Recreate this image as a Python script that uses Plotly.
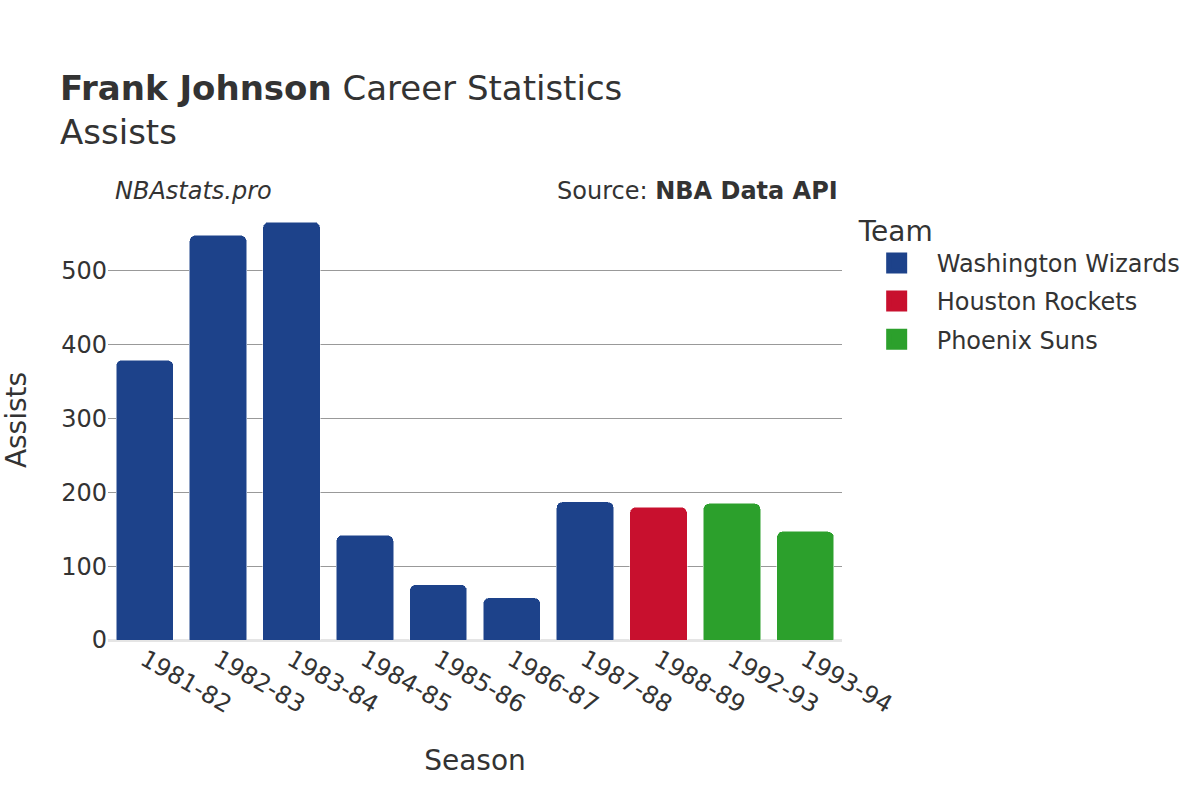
import plotly.graph_objects as go

seasons = ["1981-82", "1982-83", "1983-84", "1984-85", "1985-86",
           "1986-87", "1987-88", "1988-89", "1992-93", "1993-94"]
teams = ["Washington Wizards", "Washington Wizards", "Washington Wizards",
         "Washington Wizards", "Washington Wizards", "Washington Wizards",
         "Washington Wizards", "Houston Rockets", "Phoenix Suns", "Phoenix Suns"]
assists = [379, 548, 566, 142, 75, 57, 187, 180, 185, 147]

team_order = ["Washington Wizards", "Houston Rockets", "Phoenix Suns"]
team_colors = {"Washington Wizards": "#1D428A",
               "Houston Rockets": "#C8102E",
               "Phoenix Suns": "#2CA02C"}

font = "DejaVu Sans"
text_color = "#333333"

fig = go.Figure()
for team in team_order:
    xs = [s for s, t in zip(seasons, teams) if t == team]
    ys = [a for a, t in zip(assists, teams) if t == team]
    fig.add_trace(go.Bar(
        x=xs, y=ys, name=team,
        marker_color=team_colors[team],
        marker_cornerradius=6,
        legendgroup=team, showlegend=False,
    ))
    # legend-only entry so the swatch can be bigger than the fixed bar swatch
    fig.add_trace(go.Scatter(
        x=[None], y=[None], mode="markers", name=team,
        legendgroup=team,
        marker=dict(symbol="square", size=16, color=team_colors[team],
                    line=dict(color=team_colors[team], width=5)),
    ))

fig.update_layout(
    width=1200, height=800,
    barmode="stack",
    bargap=0.22,
    template="plotly_white",
    font=dict(family=font, size=24, color=text_color),
    title=dict(
        text="<b>Frank Johnson</b> Career Statistics<br>Assists",
        x=0.05, xref="container", xanchor="left",
        y=0.875, yref="container", yanchor="top",
        font=dict(size=34, color=text_color),
    ),
    margin=dict(l=108, r=358, t=200, b=160, autoexpand=False),
    legend=dict(
        title=dict(text="Team", font=dict(size=28)),
        x=1.02, y=0.99, xanchor="left", yanchor="top",
        font=dict(size=24),
        traceorder="grouped",
        tracegroupgap=4,
        itemwidth=70,
    ),
    xaxis=dict(
        title=dict(text="Season", font=dict(size=28), standoff=32),
        categoryorder="array", categoryarray=seasons,
        tickangle=30,
        showgrid=False,
        automargin=False,
    ),
    yaxis=dict(
        title=dict(text="Assists", font=dict(size=28), standoff=26),
        gridcolor="#999999",
        zeroline=True, zerolinecolor="#e5e5e5", zerolinewidth=3,
        dtick=100,
        automargin=False,
    ),
    annotations=[
        dict(text="<i>NBAstats.pro</i>", x=0.007, y=1.02, xref="paper", yref="paper",
             xanchor="left", yanchor="middle", showarrow=False, font=dict(size=24)),
        dict(text="Source: <b>NBA Data API</b>", x=0.997, y=1.02, xref="paper", yref="paper",
             xanchor="right", yanchor="middle", showarrow=False, font=dict(size=24)),
    ],
)

fig.write_html("out.html", config={"displayModeBar": False},
               post_script="document.body.style.margin = '0';")
